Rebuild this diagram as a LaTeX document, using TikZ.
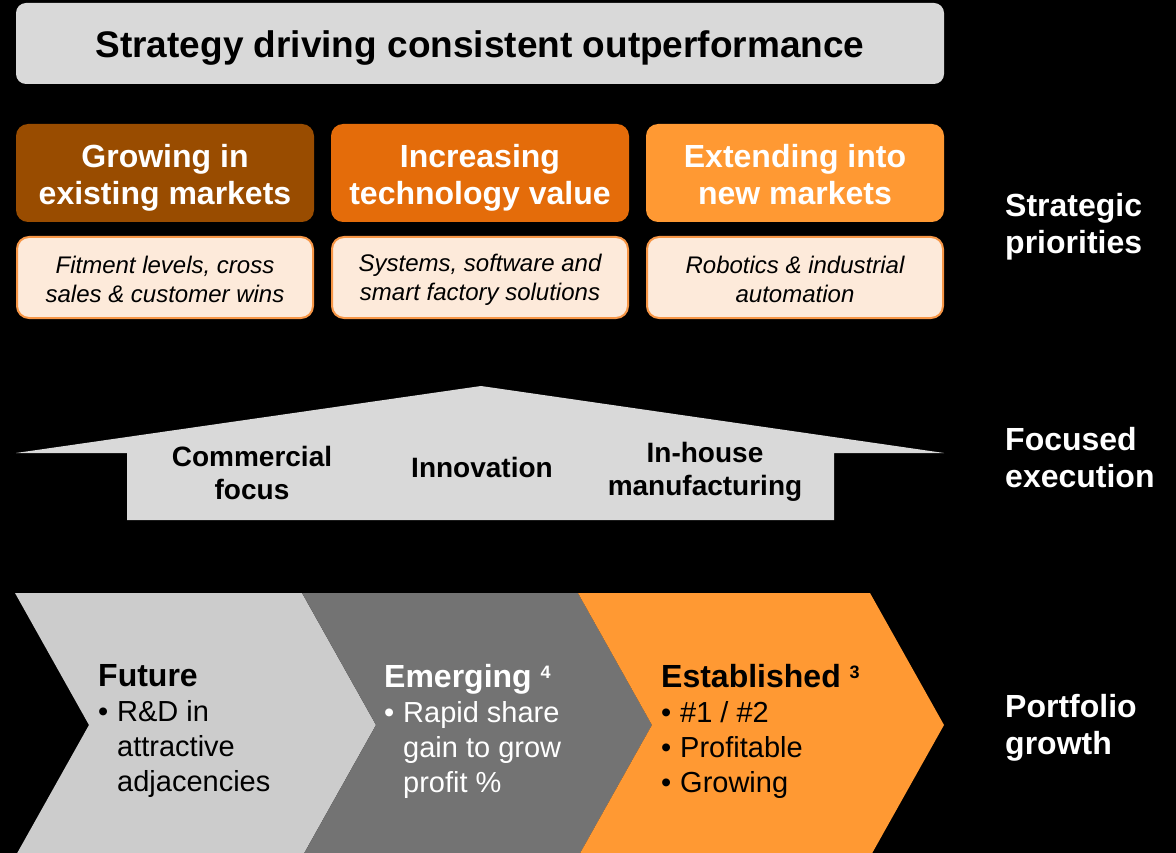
\documentclass[tikz,border=0pt]{standalone}
\usepackage{fontspec}
\setmainfont{Liberation Sans}
\definecolor{titlegray}{HTML}{D9D9D9}
\definecolor{prioA}{HTML}{994C00}
\definecolor{prioB}{HTML}{E46C0A}
\definecolor{prioC}{HTML}{FF9933}
\definecolor{peach}{HTML}{FDEADA}
\definecolor{peachline}{HTML}{F79646}
\definecolor{chevA}{HTML}{CCCCCC}
\definecolor{chevB}{HTML}{737373}
\definecolor{chevC}{HTML}{FF9933}
\newcommand\chvhd{\fontsize{32}{35}\selectfont\bfseries}
\newcommand\chvsup[1]{\raisebox{9pt}{\fontsize{18}{18}\selectfont #1}}
\newcommand\bul{\makebox[19pt][l]{•}}
\newcommand\ind{\hspace*{19pt}}
\begin{document}
\begin{tikzpicture}[x=1pt,y=-1pt,
  titlebox/.style={fill=titlegray, rounded corners=10pt, minimum width=928pt, minimum height=81pt, inner sep=0pt},
  titletext/.style={inner sep=0pt, font=\fontsize{37}{42}\selectfont\bfseries, text=black},
  priobox/.style={rounded corners=12pt, minimum width=298pt, minimum height=98pt, inner sep=0pt},
  priotext/.style={inner sep=0pt, align=center, font=\fontsize{32}{37}\selectfont\bfseries, text=white},
  descbox/.style={fill=peach, draw=peachline, line width=2pt, rounded corners=12pt, minimum width=296pt, minimum height=81pt,
    inner sep=0pt},
  desctext/.style={inner sep=0pt, align=center, font=\fontsize{24}{29}\selectfont\itshape, text=black},
  sidelabel/.style={anchor=west, inner sep=0pt, align=left, font=\fontsize{32}{37}\selectfont\bfseries, text=white},
  housetext/.style={inner sep=0pt, align=center, font=\fontsize{28}{33}\selectfont\bfseries, text=black},
  chevtext/.style={anchor=north west, inner sep=0pt, align=left, font=\fontsize{29}{35}\selectfont}
]
\fill[black] (0,0) rectangle (1176,853);
\useasboundingbox (0,0) rectangle (1176,853);

% title
\node[titlebox] (title) at (480,43.5) {};
\node[titletext] (titleT) at (480,48) {Strategy driving consistent outperformance};

% strategic priorities
\node[priobox, fill=prioA] (pA) at (165,173) {};
\node[priobox, fill=prioB] (pB) at (480,173) {};
\node[priobox, fill=prioC] (pC) at (795,173) {};
\node[priotext] (pAT) at (165,178) {Growing in\\existing markets};
\node[priotext] (pBT) at (480,178) {Increasing\\technology value};
\node[priotext] (pCT) at (795,175) {Extending into\\new markets};

\node[descbox] (dA) at (165,277.5) {};
\node[descbox] (dB) at (480,277.5) {};
\node[descbox] (dC) at (795,277.5) {};
\node[desctext] (dAT) at (165,279.5) {Fitment levels, cross\\sales \& customer wins};
\node[desctext] (dBT) at (480,279.5) {Systems, software and\\smart factory solutions};
\node[desctext] (dCT) at (795,279.5) {Robotics \& industrial\\automation};

\node[sidelabel] (lblA) at (1005,227) {Strategic\\priorities};

% focused execution house
\fill[titlegray] (16,453) -- (481,386) -- (944,453) -- (834,453) -- (834,520) -- (127,520) -- (127,453) -- cycle;
\node[housetext] (hA) at (252,473) {Commercial\\focus};
\node[housetext] (hB) at (482,467) {Innovation};
\node[housetext] (hC) at (705,472) {In-house\\manufacturing};
\node[sidelabel] (lblB) at (1005,458) {Focused\\execution};

% portfolio chevrons
\fill[chevA] (15,593) -- (302,593) -- (376,725) -- (302,857) -- (15,857) -- (89,725) -- cycle;
\fill[chevB] (302,593) -- (578,593) -- (652,725) -- (578,857) -- (302,857) -- (376,725) -- cycle;
\fill[chevC] (578,593) -- (870,593) -- (944,725) -- (870,857) -- (578,857) -- (652,725) -- cycle;

\node[chevtext, text=black] (cA) at (98,664)
  {{\chvhd Future}\\\bul R\&D in\\\ind attractive\\\ind adjacencies};
\node[chevtext, text=white] (cB) at (384,664)
  {{\chvhd Emerging \chvsup{4}}\\\bul Rapid share\\\ind gain to grow\\\ind profit \%};
\node[chevtext, text=black] (cC) at (661,664)
  {{\chvhd Established \chvsup{3}}\\\bul\#1 / \#2\\\bul Profitable\\\bul Growing};

\node[sidelabel] (lblC) at (1005,728) {Portfolio\\growth};
\end{tikzpicture}
\end{document}
